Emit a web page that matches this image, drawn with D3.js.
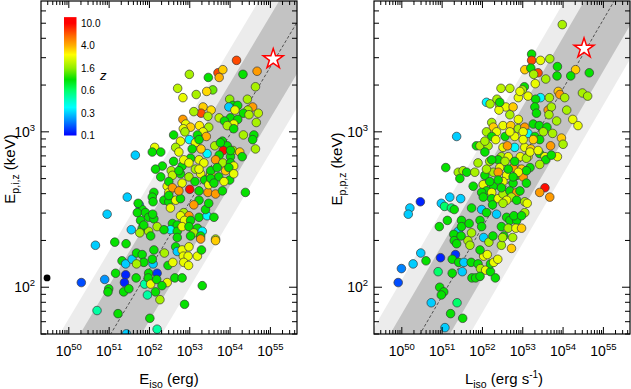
<!DOCTYPE html>
<html>
<head>
<meta charset="utf-8">
<script src="https://cdn.jsdelivr.net/npm/d3@7"></script>
<style>
  body { margin: 0; background: #fff; }
  svg { display: block; font-family: "Liberation Sans", Arial, Helvetica, sans-serif; }
</style>
</head>
<body>
<div id="chart"></div>
<script>
const W = 631, H = 389;

// axis ranges (log10 of energy / luminosity, keV for the peak energy)
const xLogDomain = [49.31, 55.66];
const yDomain = [50, 6950];
const xMajor = [50, 51, 52, 53, 54, 55];
const yMajor = [2, 3];

// colour bar
const zTicks = [0.1, 0.3, 0.6, 1.6, 4.0, 10.0];
const zTickPos = [0, 0.2, 0.4, 0.6, 0.8, 1.0];
const stopT = [0, 0.14, 0.25, 0.32, 0.41, 0.5, 0.6, 0.72, 0.8, 0.88, 0.95, 1];
const stopColor = ["#0000ff", "#0090ff", "#00ffff", "#00ffc0", "#00ff60", "#00e000",
  "#90ee00", "#ffff00", "#ffb000", "#ff7000", "#ff3000", "#ff0000"];

// best fits: [log Ep at 10^52, slope], band half widths in dex
const fitLeft = [2.116, 0.434];
const fitRight = [2.388, 0.445];
const bandWidths = [0.55, 0.33];

// [log Eiso, log Ep,i, z]
const amatiPoints = [
  [54.16,3.46,7],[53.70,3.38,7],[53.82,3.40,3.5],[53.73,3.35,4],[53.46,3.35,1],[52.99,3.37,1.8],[53.57,3.27,1.4],[53.42,3.26,3.3],[52.70,3.28,2],[52.83,3.22,2.5],
  [53.16,3.24,1.8],[54.32,3.37,1],[54.67,3.39,4.5],[54.63,3.29,1.8],[53.99,3.21,1.6],[54.07,3.17,1],[54.43,3.21,1.8],[54.19,3.17,1],[53.97,3.16,0.3],[53.33,3.16,3.5],
  [53.53,3.14,3.2],[53.28,3.12,7],[53.10,3.13,1.8],[53.45,3.10,1.8],[53.73,3.09,2],[54.01,3.09,1],[53.86,3.07,1],[54.12,3.14,2.5],[54.56,3.16,4.5],[54.44,3.14,1.8],
  [54.33,3.12,1],[54.70,3.12,2],[54.19,3.08,1],[54.47,3.11,1.8],[54.65,3.06,1.8],[54.09,3.05,2.5],[53.93,3.04,1.8],[54.09,3.02,1],[54.33,2.98,1.8],[54.59,2.98,1],
  [54.56,2.95,1],[54.63,2.89,1.8],[54.38,2.61,1],[52.83,3.08,4.5],[52.90,3.05,2.5],[53.02,3.03,3.5],[52.84,3.02,2.5],[52.60,2.98,1],[52.88,3.00,1.8],[53.24,3.04,3],
  [53.47,3.03,1.8],[53.33,3.00,2.5],[53.41,2.97,4],[53.19,2.98,1],[52.99,2.95,0.35],[53.14,2.93,2.5],[52.77,2.94,2.5],[52.65,2.90,1.8],[52.73,2.87,2.5],[52.13,2.90,2.5],
  [52.07,2.87,1],[52.28,2.87,1],[51.65,2.85,0.3],[53.43,2.86,0.35],[53.28,2.89,3.5],[53.62,2.91,1.8],[53.81,2.94,1],[53.93,2.91,1],[54.07,2.88,1.6],[53.83,2.88,9.5],
  [53.73,2.85,1],[54.01,2.84,1],[54.24,2.87,3.5],[54.30,2.84,1],[53.64,2.82,4.5],[53.82,2.80,1.8],[54.01,2.80,1],[54.09,2.78,2.5],[53.89,2.75,3.5],[53.23,2.82,2.5],
  [53.35,2.80,2.5],[53.14,2.76,1.8],[52.94,2.81,2.5],[53.02,2.83,1],[52.81,2.78,1],[52.60,2.81,1],[52.54,2.75,1.8],[52.32,2.78,1],[52.15,2.76,1],[52.28,2.71,1],
  [52.57,2.72,2],[52.77,2.73,1],[52.98,2.71,1.8],[53.27,2.73,2.5],[53.52,2.73,2.5],[53.72,2.71,1],[53.99,2.69,1],[53.37,2.69,1],[53.13,2.68,1],[52.81,2.67,2.5],
  [52.44,2.65,2.5],[52.11,2.61,1],[52.48,2.61,2.5],[53.00,2.63,9.5],[53.23,2.62,1],[53.45,2.61,4.5],[53.64,2.60,4.5],[53.81,2.62,1],[53.47,2.66,2.5],[51.45,2.58,0.3],
  [51.75,2.53,0.3],[52.07,2.58,1],[52.09,2.55,1],[51.82,2.50,1],[51.70,2.48,1],[51.90,2.48,1],[51.98,2.45,1],[51.78,2.43,1],[52.11,2.44,1],[52.19,2.39,1.8],
  [51.55,2.37,0.3],[51.82,2.38,1],[51.98,2.36,1.8],[52.03,2.33,1],[52.36,2.56,1],[52.48,2.55,1],[52.65,2.56,2.5],[52.52,2.51,2.5],[52.77,2.57,1],[52.85,2.48,1.8],
  [52.98,2.46,4.5],[52.77,2.46,2.5],[52.87,2.43,2.5],[53.02,2.43,1],[53.23,2.45,1],[53.43,2.46,0.35],[53.60,2.45,1],[53.39,2.50,1],[53.23,2.56,1],[53.47,2.54,1],
  [53.10,2.53,4.5],[52.57,2.41,1],[52.69,2.40,1],[52.52,2.37,0.35],[52.69,2.36,1],[52.81,2.39,2.5],[52.98,2.39,1],[53.19,2.38,1],[53.10,2.35,1.8],[53.31,2.36,0.35],
  [52.36,2.37,1],[53.27,2.33,1],[53.64,2.31,1.8],[53.02,2.33,1],[52.69,2.32,1],
  [52.73,2.75,1],[52.85,2.82,2.5],[52.98,2.80,2.5],[53.23,2.76,2.5],[53.52,2.75,1],[53.68,2.77,1],[53.97,2.77,1],[54.01,2.88,1],[53.76,2.93,1],[53.06,2.89,1],
  [53.23,2.95,1],[52.48,2.68,1],[52.57,2.64,4.5],[52.73,2.62,4.5],[52.48,2.59,1],[53.52,2.70,1],[53.85,2.68,2.5],[53.60,2.67,1],[54.09,2.73,2.5],
  [50.66,2.27,0.3],[51.14,2.29,1],[51.42,2.28,1],[50.31,2.03,0.15],[50.89,2.05,0.22],[50.99,1.99,1],[50.97,1.97,1],[51.16,2.09,1],[51.41,2.08,0.12],[51.38,2.03,0.12],
  [51.36,1.97,1],[51.49,1.99,1],[51.32,2.17,1],[51.41,2.15,0.3],[51.57,2.18,0.3],[51.68,2.22,1],[51.82,2.21,1],[51.86,2.16,1],[51.68,2.15,1.8],[51.67,2.06,1],
  [51.88,2.02,0.5],[51.98,2.09,1],[51.97,2.06,1],[52.03,2.02,2.5],[52.19,2.09,0.13],[52.18,2.05,1],[52.09,2.15,0.3],[52.07,2.18,1],[52.11,2.24,1],[51.95,1.95,0.5],
  [52.15,1.97,1],[52.26,1.92,1.8],[52.44,2.03,2.5],[52.46,2.14,1],[52.58,2.16,2.5],[52.37,2.22,1.8],[52.65,2.26,1],[52.69,2.23,0.3],[52.81,2.24,2.5],[52.98,2.26,2.5],
  [52.84,2.20,2.5],[52.96,2.20,2.5],[52.85,2.16,2.5],[52.97,2.14,2.5],[53.19,2.20,2.5],[53.29,2.24,1],[52.63,2.06,1],[52.81,2.06,1],[53.31,2.01,1],[52.87,1.89,1],
  [50.70,1.85,0.5],[51.22,1.83,1],[52.01,1.80,1],[52.19,1.73,0.5],[51.43,1.70,0.3],[53.64,2.30,3.5],[53.27,2.31,4.5],
  [50.95,2.47,0.3],[51.72,2.54,1],[51.86,2.40,1],[51.76,2.35,1.8],[52.08,2.47,1],[52.31,2.01,1]
];

// [log Liso, log Ep,p, z]
const yonetokuPoints = [
  [53.98,3.69,1.8],[53.22,3.50,1],[53.22,3.46,7],[53.44,3.46,2.5],[53.67,3.47,1.8],[53.05,3.40,3.5],[53.20,3.41,1],[53.38,3.38,7],[53.27,3.37,1.8],[53.86,3.42,1],
  [53.85,3.36,1],[53.57,3.34,1.8],[54.31,3.40,3.5],[54.65,3.38,1],[53.31,3.31,2.5],[53.04,3.29,1],[52.99,3.27,1.8],[52.46,3.28,2],[52.68,3.28,2],[53.13,3.23,2.5],
  [52.89,3.22,2.5],[53.44,3.22,0.35],[53.32,3.21,1],[53.66,3.22,1.8],[53.88,3.26,3.5],[53.92,3.24,4.5],[54.04,3.22,1.8],[54.48,3.25,1.8],[54.61,3.23,1.8],[52.10,3.19,0.35],
  [52.19,3.18,1.8],[52.36,3.21,1.8],[52.43,3.17,1.8],[52.58,3.16,2.5],[52.76,3.16,3.5],[52.41,3.14,2.5],[52.68,3.11,1.8],[52.89,3.08,2.5],[53.30,3.16,1],[53.34,3.12,1],
  [53.63,3.14,4.5],[53.71,3.16,1.8],[54.09,3.14,1.8],[53.65,3.11,1.8],[53.84,3.07,1.8],[54.24,3.08,2.5],[54.37,3.04,2.5],[53.96,2.96,3.5],[54.00,2.92,1.8],[52.23,3.06,1.8],
  [52.51,3.04,2.5],[52.70,3.04,3.5],[52.27,3.03,3.5],[52.10,3.00,1.8],[52.35,3.00,2.5],[52.23,2.97,1],[52.89,3.02,1.8],[53.05,3.03,4.5],[53.26,3.05,1],[53.13,2.99,0.35],
  [53.41,3.04,1],[53.60,3.03,1],[53.51,3.00,1.8],[53.30,2.97,1],[53.42,2.95,1],[53.01,3.00,2.5],[52.80,2.97,2.5],[51.36,2.97,0.3],[51.85,2.91,1],[51.94,2.91,1.8],
  [52.14,2.91,1.8],[52.51,2.90,2.5],[52.80,2.90,0.35],[53.05,2.90,2.5],[53.20,2.89,3.5],[52.47,2.84,1.8],[52.39,2.82,1],[52.64,2.84,2.5],[52.94,2.84,2.5],[53.13,2.84,2.5],
  [53.42,2.86,1],[53.55,2.84,2.5],[53.57,2.82,1],[53.86,2.84,2.5],[51.89,2.80,1.8],[52.18,2.81,1.8],[52.43,2.77,2.5],[52.76,2.77,4.5],[52.97,2.76,3.5],[53.18,2.77,1],
  [51.09,2.77,1],[51.40,2.74,1.8],[51.52,2.75,1.8],[51.61,2.74,1],[51.81,2.74,1.8],[52.06,2.72,1],[52.27,2.74,1.8],[52.60,2.72,2.5],[52.85,2.72,1],[53.01,2.71,4.5],
  [53.55,2.64,9.5],[53.42,2.61,4.5],[53.67,2.58,4.5],[53.09,2.67,1],[52.76,2.67,1],[52.51,2.68,2.5],[52.27,2.65,1],[52.02,2.66,2.5],[51.77,2.65,1],
  [50.46,2.55,0.12],[50.20,2.51,0.3],[50.16,2.47,0.3],[50.98,2.54,0.3],[51.06,2.52,0.6],[51.19,2.58,0.3],[51.23,2.51,0.6],[51.30,2.50,1],[51.46,2.57,0.3],[51.44,2.70,1],
  [52.06,2.87,1],[52.06,2.94,1.8],[52.33,2.95,2.5],[52.56,2.97,1],[52.68,3.00,2.5],[52.62,2.91,4.5],[52.23,2.82,1],[52.56,2.81,1.8],[52.10,2.76,1.8],[52.39,2.74,4.5],
  [52.64,2.76,1],[52.80,2.81,1],[53.09,2.83,1.8],[53.18,2.87,2.5],[53.26,2.95,3.5],[53.01,2.95,2.5],[53.38,2.88,2.5],[53.69,2.91,4.5],[53.74,2.99,1.8],[53.71,2.85,1],
  [53.42,2.79,1.8],[53.09,2.75,1],[52.89,2.74,2.5],[52.76,2.71,1],[52.39,2.69,1],[52.18,2.68,1],[52.10,2.62,1],[52.23,2.61,2.5],[51.98,2.61,1],[52.02,2.58,1],
  [52.23,2.57,1],[52.39,2.57,2.5],[52.51,2.60,1.8],[52.47,2.64,1],[52.68,2.62,1],[52.85,2.61,4.5],[52.93,2.62,1],[52.72,2.58,1.8],[52.60,2.56,2.5],[52.85,2.56,1],
  [53.05,2.55,1.8],[53.05,2.48,1.8],[51.98,2.50,0.3],[52.10,2.48,1],[52.35,2.47,0.3],[52.60,2.45,1],[52.68,2.43,1],[52.85,2.43,1],[52.47,2.39,1],[52.64,2.38,1.8],
  [52.83,2.38,2.5],[52.97,2.38,3.5],[51.94,2.43,1],[51.98,2.39,1],[51.48,2.43,1],[51.73,2.51,1],[50.93,2.39,1],[51.40,2.36,0.3],[51.13,2.43,1],[51.48,2.39,1],
  [51.67,2.41,1],[51.29,2.34,1],[51.30,2.30,1],[51.36,2.28,1],[51.64,2.30,1.8],[51.69,2.27,1.8],[51.73,2.35,1.8],[50.47,2.22,0.3],[50.96,2.19,0.12],[51.33,2.21,0.13],
  [50.60,2.17,1],[50.28,2.15,0.3],[49.99,2.12,0.2],[49.91,2.03,0.15],[50.90,2.10,0.6],[51.25,2.18,1],[51.41,2.16,1],[51.54,2.16,0.3],[51.25,2.09,1],[51.50,2.10,0.3],
  [51.72,2.16,1],[51.89,2.15,1],[51.95,2.12,1.8],[52.08,2.11,2.5],[52.20,2.10,1],[52.32,2.06,1],[51.74,2.06,1],[51.83,2.06,1],[51.94,2.07,1],[52.03,2.20,2.5],
  [52.12,2.21,2.5],[51.94,2.24,1],[52.20,2.15,1],[52.28,2.16,2.5],[52.38,2.18,2.5],[52.47,2.27,1.8],[52.72,2.25,3.5],[50.94,2.00,1],[51.04,1.97,1],[50.98,1.95,1],
  [50.73,1.90,0.3],[51.37,1.90,0.6],[51.21,1.83,1],[51.51,1.80,1],[51.07,1.74,0.3],[51.47,2.33,1],[52.03,2.32,0.3],[52.16,2.29,1.8],[52.26,2.33,1],[52.53,2.33,1],
  [52.78,2.46,1],[52.97,2.46,1],[52.50,2.32,1.8],[52.75,2.32,1.8],[52.25,2.53,1],[52.51,2.54,1.8],[53.11,2.54,2.5],[54.19,3.36,1],[52.43,3.19,1],[52.93,3.26,2.5]
];

// burst without redshift colour (left panel) and the highlighted event
const noZPoint = [49.46, 2.06];
const starLeft = [55.07, 3.468];
const starRight = [54.52, 3.537];

const plotTop = 1, plotBottom = 334;

const zToT = d3.scaleLinear().domain(zTicks.map(Math.log10)).range(zTickPos).clamp(true);
const tColor = d3.scaleLinear().domain(stopT).range(stopColor).interpolate(d3.interpolateRgb).clamp(true);
const zColor = z => tColor(zToT(Math.log10(z)));

const svg = d3.select("#chart").append("svg")
  .attr("width", W).attr("height", H)
  .attr("viewBox", [0, 0, W, H]);
const defs = svg.append("defs");

function drawPanel(cfg) {
  const x = d3.scaleLog().domain(xLogDomain.map(v => 10 ** v)).range([cfg.x0, cfg.x1]);
  const y = d3.scaleLog().domain(yDomain).range([plotBottom, plotTop]);
  const fit = lx => cfg.fit[0] + cfg.fit[1] * (lx - 52);

  defs.append("clipPath").attr("id", "clip-" + cfg.id)
    .append("rect").attr("x", cfg.x0).attr("y", plotTop)
    .attr("width", cfg.x1 - cfg.x0).attr("height", plotBottom - plotTop);

  const g = svg.append("g").attr("clip-path", `url(#clip-${cfg.id})`);

  // scatter bands
  const bandFill = ["#ececec", "#c3c3c3"];
  bandWidths.forEach((w, i) => {
    const pts = [
      [xLogDomain[0], fit(xLogDomain[0]) - w],
      [xLogDomain[1], fit(xLogDomain[1]) - w],
      [xLogDomain[1], fit(xLogDomain[1]) + w],
      [xLogDomain[0], fit(xLogDomain[0]) + w]
    ];
    g.append("path")
      .attr("d", d3.line()(pts.map(p => [x(10 ** p[0]), y(10 ** p[1])])) + "Z")
      .attr("fill", bandFill[i]);
  });

  g.append("line")
    .attr("x1", x(10 ** xLogDomain[0])).attr("y1", y(10 ** fit(xLogDomain[0])))
    .attr("x2", x(10 ** xLogDomain[1])).attr("y2", y(10 ** fit(xLogDomain[1])))
    .attr("stroke", "#333").attr("stroke-width", 0.8).attr("stroke-dasharray", "3,2");

  g.selectAll("circle.grb")
    .data(cfg.points)
    .join("circle")
    .attr("class", "grb")
    .attr("cx", d => x(10 ** d[0]))
    .attr("cy", d => y(10 ** d[1]))
    .attr("r", 4.3)
    .attr("fill", d => zColor(d[2]))
    .attr("stroke", "#3a3a3a")
    .attr("stroke-width", 0.7);

  if (cfg.extra) {
    g.append("circle")
      .attr("cx", x(10 ** cfg.extra[0])).attr("cy", y(10 ** cfg.extra[1]))
      .attr("r", 3.4).attr("fill", "#000");
  }

  g.append("path")
    .attr("d", d3.symbol(d3.symbolStar, 124)())
    .attr("transform", `translate(${x(10 ** cfg.star[0])},${y(10 ** cfg.star[1])})`)
    .attr("fill", "#fff").attr("stroke", "#ff0000").attr("stroke-width", 1.5);

  // frame and ticks
  const ax = svg.append("g").attr("stroke", "#000").attr("stroke-width", 1);
  ax.append("rect")
    .attr("x", cfg.x0).attr("y", plotTop)
    .attr("width", cfg.x1 - cfg.x0).attr("height", plotBottom - plotTop)
    .attr("fill", "none").attr("stroke-width", 1.2);

  const xTicks = [];
  for (let k = 49; k <= 55; k++) {
    for (let m = 1; m <= 9; m++) {
      const lv = k + Math.log10(m);
      if (lv >= xLogDomain[0] && lv <= xLogDomain[1]) xTicks.push({ v: m * 10 ** k, major: m === 1 });
    }
  }
  xTicks.forEach(t => {
    const px = x(t.v), len = t.major ? 7 : 4;
    ax.append("line").attr("x1", px).attr("x2", px).attr("y1", plotBottom).attr("y2", plotBottom - len);
    ax.append("line").attr("x1", px).attr("x2", px).attr("y1", plotTop).attr("y2", plotTop + len);
  });

  const yTicks = [];
  for (let k = 1; k <= 3; k++) {
    for (let m = 1; m <= 9; m++) {
      const v = m * 10 ** k;
      if (v >= yDomain[0] && v <= yDomain[1]) yTicks.push({ v, major: m === 1 });
    }
  }
  yTicks.forEach(t => {
    const py = y(t.v), len = t.major ? 8 : 5;
    ax.append("line").attr("x1", cfg.x0).attr("x2", cfg.x0 + len).attr("y1", py).attr("y2", py);
    ax.append("line").attr("x1", cfg.x1).attr("x2", cfg.x1 - len).attr("y1", py).attr("y2", py);
  });

  // tick labels
  xMajor.forEach(k => {
    const t = svg.append("text")
      .attr("x", x(10 ** k)).attr("y", 356)
      .attr("text-anchor", "middle").attr("font-size", 14);
    t.append("tspan").text("10");
    t.append("tspan").attr("dy", -6).attr("font-size", 9.5).text(k);
  });
  yMajor.forEach(k => {
    const t = svg.append("text")
      .attr("x", cfg.x0 - 6).attr("y", y(10 ** k) + 5)
      .attr("text-anchor", "end").attr("font-size", 14);
    t.append("tspan").text("10");
    t.append("tspan").attr("dy", -6).attr("font-size", 9.5).text(k);
  });

  // axis titles
  const xt = svg.append("text")
    .attr("x", cfg.xTitleX).attr("y", 384)
    .attr("text-anchor", "middle").attr("font-size", 15);
  cfg.xTitle(xt);

  const yt = svg.append("text")
    .attr("transform", `translate(${cfg.yTitleX},169) rotate(-90)`)
    .attr("text-anchor", "middle").attr("font-size", 15);
  yt.append("tspan").text("E");
  yt.append("tspan").attr("dy", 4).attr("font-size", 10.5).text(cfg.ySub);
  yt.append("tspan").attr("dy", -4).text(" (keV)");
}

drawPanel({
  id: "amati", x0: 41, x1: 297, points: amatiPoints, fit: fitLeft,
  star: starLeft, extra: noZPoint, ySub: "p,i,z", yTitleX: 14.5, xTitleX: 169,
  xTitle: t => {
    t.append("tspan").text("E");
    t.append("tspan").attr("dy", 4).attr("font-size", 10.5).text("iso");
    t.append("tspan").attr("dy", -4).text(" (erg)");
  }
});

drawPanel({
  id: "yonetoku", x0: 374, x1: 630, points: yonetokuPoints, fit: fitRight,
  star: starRight, ySub: "p,p,z", yTitleX: 342, xTitleX: 504,
  xTitle: t => {
    t.append("tspan").text("L");
    t.append("tspan").attr("dy", 4).attr("font-size", 10.5).text("iso");
    t.append("tspan").attr("dy", -4).text(" (erg s");
    t.append("tspan").attr("dy", -6).attr("font-size", 10).text("-1");
    t.append("tspan").attr("dy", 6).text(")");
  }
});

// colour bar for redshift
const barTop = 1.055;
const barY = d3.scaleLinear().domain([0, 1]).range([135.5, 23.3]);
const grad = defs.append("linearGradient").attr("id", "zgrad")
  .attr("x1", 0).attr("y1", 1).attr("x2", 0).attr("y2", 0);
stopT.forEach((t, i) => {
  grad.append("stop").attr("offset", t / barTop).attr("stop-color", stopColor[i]);
});
grad.append("stop").attr("offset", 1).attr("stop-color", "#ff0000");

svg.append("rect")
  .attr("x", 64).attr("y", barY(barTop))
  .attr("width", 12.5).attr("height", barY(0) - barY(barTop))
  .attr("fill", "url(#zgrad)");

svg.selectAll("text.zlab")
  .data(zTicks)
  .join("text")
  .attr("class", "zlab")
  .attr("x", 81)
  .attr("y", (d, i) => barY(zTickPos[i]) + 3.5)
  .attr("font-size", 10)
  .text(d => d.toFixed(1));

svg.append("text")
  .attr("x", 100).attr("y", 80)
  .attr("font-size", 13).attr("font-style", "italic")
  .text("z");
</script>
</body>
</html>
